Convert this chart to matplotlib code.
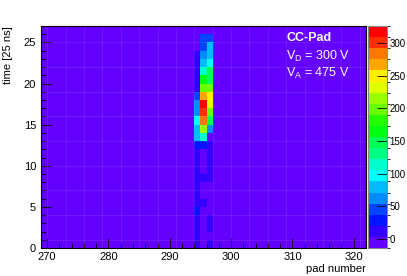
import colorsys
import numpy as np
import matplotlib
matplotlib.use('Agg')
import matplotlib.pyplot as plt
from matplotlib.colors import ListedColormap, BoundaryNorm

plt.rcParams['font.family'] = 'Liberation Sans'
plt.rcParams['mathtext.default'] = 'regular'

# histogram binning (1 pad x 1 time sample per cell)
pad_lo, pad_hi = 269, 322
time_lo, time_hi = 0, 27

# counts of the three pads that fired, time bins 0..26
pads = [294, 295, 296]
counts_294 = [11, 11, 11, 11, 28, 11, 11, 11, 11, 11, 11, 11, 28, 80, 80, 97,
              62, 62, 45, 11, 11, 11, 11, 11, 0, 0, 0]
counts_295 = [0, 0, 0, 0, 0, 11, 0, 0, 11, 0, 0, 0, 28, 113, 215, 283,
              305, 320, 266, 198, 165, 120, 80, 65, 45, 40, 0]
counts_296 = [11, 0, 11, 11, 0, 0, 0, 0, 11, 11, 11, 11, 11, 0, 62, 147,
              205, 232, 249, 198, 155, 147, 97, 80, 80, 45, 0]

z_min, z_max = -14, 326
n_levels = 20

pad_edges = np.arange(pad_lo, pad_hi + 1)
time_edges = np.arange(time_lo, time_hi + 1)
hist = np.zeros((time_hi - time_lo, pad_hi - pad_lo))
for pad, col in zip(pads, [counts_294, counts_295, counts_296]):
    hist[:, pad - pad_lo] = col

# ROOT "pretty" palette: 50 HLS colours violet -> red, 20 contour levels
pretty = []
for i in range(50):
    hue = 280 - (i + 1) * 280 / 50
    pretty.append(colorsys.hls_to_rgb(hue / 360, 0.5, 1.0))
colors = [pretty[int((j + 0.99) * 50 / n_levels)] for j in range(n_levels)]
cmap = ListedColormap(colors)
levels = np.linspace(z_min, z_max, n_levels + 1)
norm = BoundaryNorm(levels, cmap.N)

fig = plt.figure(figsize=(4.07, 2.76), dpi=100)
ax = fig.add_axes([41 / 407, 28 / 276, 325 / 407, 222 / 276])
cax = fig.add_axes([367.5 / 407, 28 / 276, 19 / 407, 222 / 276])

mesh = ax.pcolormesh(pad_edges, time_edges, hist, cmap=cmap, norm=norm)
# faint seams between the cells, as in the rasterised ROOT output
ax.vlines(pad_edges[1:-1:3], time_lo, time_hi, color='white', alpha=0.1, lw=0.6)
ax.hlines(time_edges[1:-1:3], pad_lo, pad_hi, color='white', alpha=0.1, lw=0.6)
ax.set_xlim(pad_lo, pad_hi)
ax.set_ylim(time_lo, time_hi)

ax.set_xticks(np.arange(270, 321, 10))
ax.set_xticks(np.arange(270, 322, 2), minor=True)
ax.set_yticks(np.arange(0, 26, 5))
ax.set_yticks(np.arange(0, 28, 1), minor=True)
ax.tick_params(which='both', direction='in', labelsize=8, width=0.6)
ax.tick_params(which='major', length=7)
ax.tick_params(which='minor', length=3.5)
ax.tick_params(axis='x', pad=3)
for s in ax.spines.values():
    s.set_linewidth(0.8)

ax.set_xlabel('pad number', fontsize=8, loc='right', labelpad=1)
ax.set_ylabel('time [25 ns]', fontsize=8, loc='top', labelpad=8)

ax.text(0.755, 0.945, 'CC-Pad', transform=ax.transAxes, color='white',
        fontsize=9, fontweight='bold', va='center')
ax.text(0.755, 0.865, r'V$_{D}$ = 300 V', transform=ax.transAxes,
        color='white', fontsize=9, va='center')
ax.text(0.755, 0.785, r'V$_{A}$ = 475 V', transform=ax.transAxes,
        color='white', fontsize=9, va='center')

cb = fig.colorbar(mesh, cax=cax, ticks=np.arange(0, 301, 50))
cb.outline.set_edgecolor('#888888')
cb.outline.set_linewidth(0.8)
cax.tick_params(direction='in', length=7, width=0.6, labelsize=7, pad=2)

fig.savefig('out.png', dpi=100)
